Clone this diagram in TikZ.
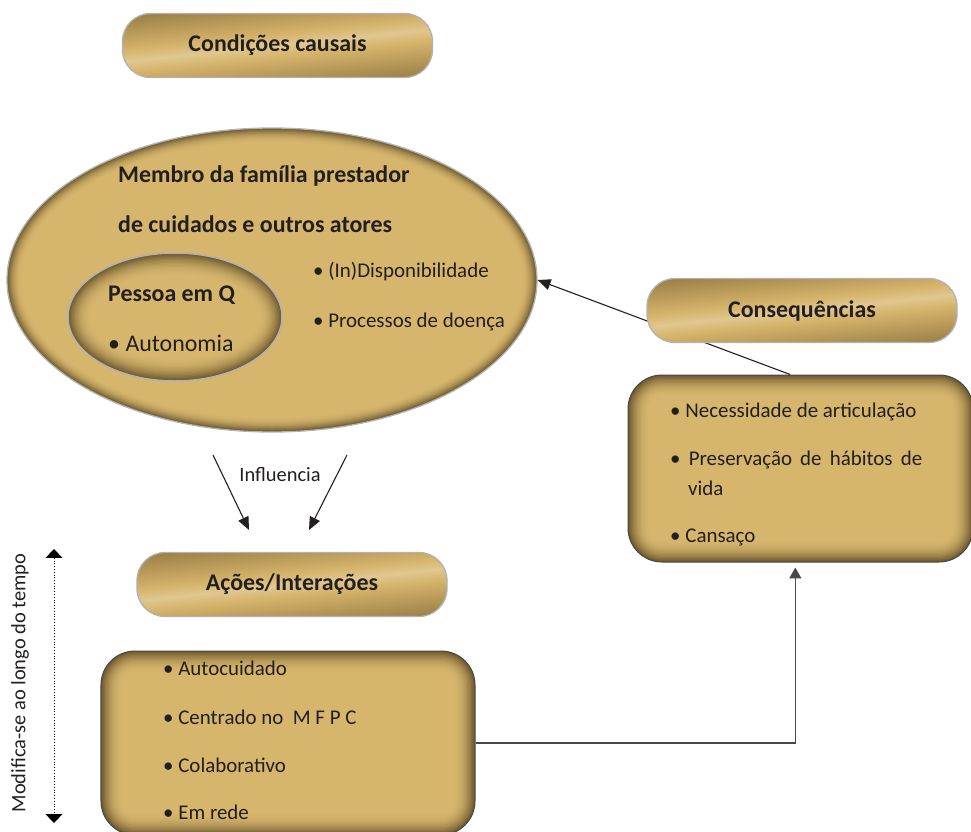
\documentclass[tikz,border=0pt]{standalone}
\usepackage{fontspec}
\setmainfont{Carlito}
\usetikzlibrary{shapes.geometric,arrows.meta,fadings,calc}

\definecolor{goldL}{RGB}{214,181,108}
\definecolor{goldM}{RGB}{168,137,76}
\definecolor{goldD}{RGB}{110,89,46}
\definecolor{ink}{RGB}{35,31,32}
\definecolor{rimgray}{RGB}{178,178,178}
\definecolor{boxline}{RGB}{72,72,72}

% cylinder-like shading for the title buttons
\pgfdeclareverticalshading{buttonbar}{100bp}{color(0bp)=(goldD!90!black); color(22bp)=(goldM!70!goldD); color(44bp)=(goldL); color(50bp)=(goldL!75!white); color(56bp)=(goldL); color(78bp)=(goldM!70!goldD); color(100bp)=(goldD!90!black)}
% darker ends of the buttons
\pgfdeclarehorizontalshading{sidemask}{100bp}{color(0bp)=(white); color(9bp)=(black); color(91bp)=(black); color(100bp)=(white)}
\pgfdeclarefading{sidefade}{\pgfuseshading{sidemask}}

\tikzset{
  button/.style={rounded corners=28bp, minimum width=310bp, minimum height=64bp,
    shade, shading=buttonbar, shading angle=6, draw=rimgray, line width=1.3bp,
    text=ink, font=\fontsize{24}{28}\selectfont\bfseries,
    path picture={\fill[goldD, path fading=sidefade]
      (path picture bounding box.south west) rectangle (path picture bounding box.north east);}},
  panel/.style={rounded corners=34bp, draw=boxline, line width=1bp, fill=goldD,
    path picture={
      \foreach \k in {1,...,16}{
        \pgfmathtruncatemacro\pct{100*(1-(1-\k/16)^2)}
        \pgfmathsetmacro\rr{max(3,34-\k*1.3)}
        \pgfmathsetmacro\dd{1.3*\k}
        \fill[goldL!\pct!goldD, rounded corners=\rr bp]
          ([shift={(\dd bp,\dd bp)}]path picture bounding box.south west) rectangle
          ([shift={(-\dd bp,-\dd bp)}]path picture bounding box.north east);
      }}},
  % ellipse whose rim darkens over #3 bp; #1, #2 are its radii
  glowell/.style n args={3}{ellipse, inner sep=0pt, fill=goldD,
    minimum width=2*#1 bp, minimum height=2*#2 bp,
    path picture={
      \foreach \k in {1,...,16}{
        \pgfmathtruncatemacro\pct{100*(1-(1-\k/16)^2)}
        \pgfmathsetmacro\dd{#3*\k/16}
        \fill[goldL!\pct!goldD] (path picture bounding box.center)
          ellipse [x radius=#1bp-\dd bp, y radius=#2bp-\dd bp];
      }}},
  bigell/.style={glowell={265}{152}{14}, draw=rimgray, line width=1.3bp},
  smallell/.style={glowell={107}{64}{22}, draw=rimgray, line width=1.5bp},
  txt/.style={anchor=west, inner sep=0pt, text=ink, font=\fontsize{21}{25}\selectfont},
  headtxt/.style={txt, font=\fontsize{24}{28}\selectfont\bfseries},
  bigtxt/.style={txt, font=\fontsize{24}{28}\selectfont},
  link/.style={line width=1.1bp, draw=ink, -{Triangle[length=13pt,width=11pt]}},
  feed/.style={line width=1.5bp, draw=boxline, -{Triangle[length=11pt,width=12pt]}},
}

\begin{document}
\begin{tikzpicture}[x=1bp, y=-1bp]
\useasboundingbox (0,0) rectangle (971,832);

% causal conditions
\node[button] (cond) at (277.5,45.5) {Condições causais};

% family caregiver ellipse with the person inside
\node[bigell] (ell) at (272,280) {};
\node[headtxt] (fam1) at (118,176) {Membro da família prestador};
\node[headtxt] (fam2) at (118,224) {de cuidados e outros atores};
\node[txt] (disp) at (313,272) {• (In)Disponibilidade};
\node[txt] (proc) at (313,322) {• Processos de doença};
\node[smallell] (pes) at (175,317) {};
\node[headtxt] (pes1) at (108,295) {Pessoa em Q};
\node[bigtxt] (pes2) at (108,343) {• Autonomia};

% consequences
\node[panel, minimum width=345bp, minimum height=187bp] (consbox) at (800.5,468.5) {};
\draw[link] ($(consbox.north west)!0.47!(consbox.north east)$) -- (ell.east);
\node[button] (cons) at (802,310.5) {Consequências};
\node[txt] (c1) at (670,412) {• Necessidade de articulação};
\node[txt] (c2) at (670,460) {\makebox[252bp][s]{• Preservação de hábitos de}};
\node[txt] (c3) at (688,488) {vida};
\node[txt] (c4) at (670,537) {• Cansaço};

% influence
\coordinate (infLa) at (213,455);
\coordinate (infLb) at (249,530);
\coordinate (infRa) at (347,455);
\coordinate (infRb) at (309,530);
\draw[link] (infLa) -- (infLb);
\draw[link] (infRa) -- (infRb);
\node[txt, anchor=center, font=\fontsize{20.5}{24}\selectfont] (infl) at (280,475) {Influencia};

% actions / interactions
\node[button] (acoes) at (292,584.5) {Ações/Interações};
\node[panel, minimum width=374bp, minimum height=184bp] (actbox) at (288,743) {};
\node[txt] (a1) at (163,668) {• Autocuidado};
\node[txt] (a2) at (163,717) {• Centrado no \ M F P C};
\node[txt] (a3) at (163,765) {• Colaborativo};
\node[txt] (a4) at (163,812) {• Em rede};

\draw[feed, shorten >=5bp] (actbox.east) -| ($(consbox.south west)!0.485!(consbox.south east)$);

% time axis
\coordinate (ttop) at (54,549);
\coordinate (tbot) at (54,823);
\draw[line width=0.8bp, dotted, {Triangle[length=9pt,width=17pt]}-{Triangle[length=9pt,width=17pt]}] (ttop) -- (tbot);
\node[txt, anchor=center, rotate=90, font=\fontsize{20.5}{24}\selectfont] (tempo) at (20,683) {Modifica-se ao longo do tempo};
\end{tikzpicture}
\end{document}
